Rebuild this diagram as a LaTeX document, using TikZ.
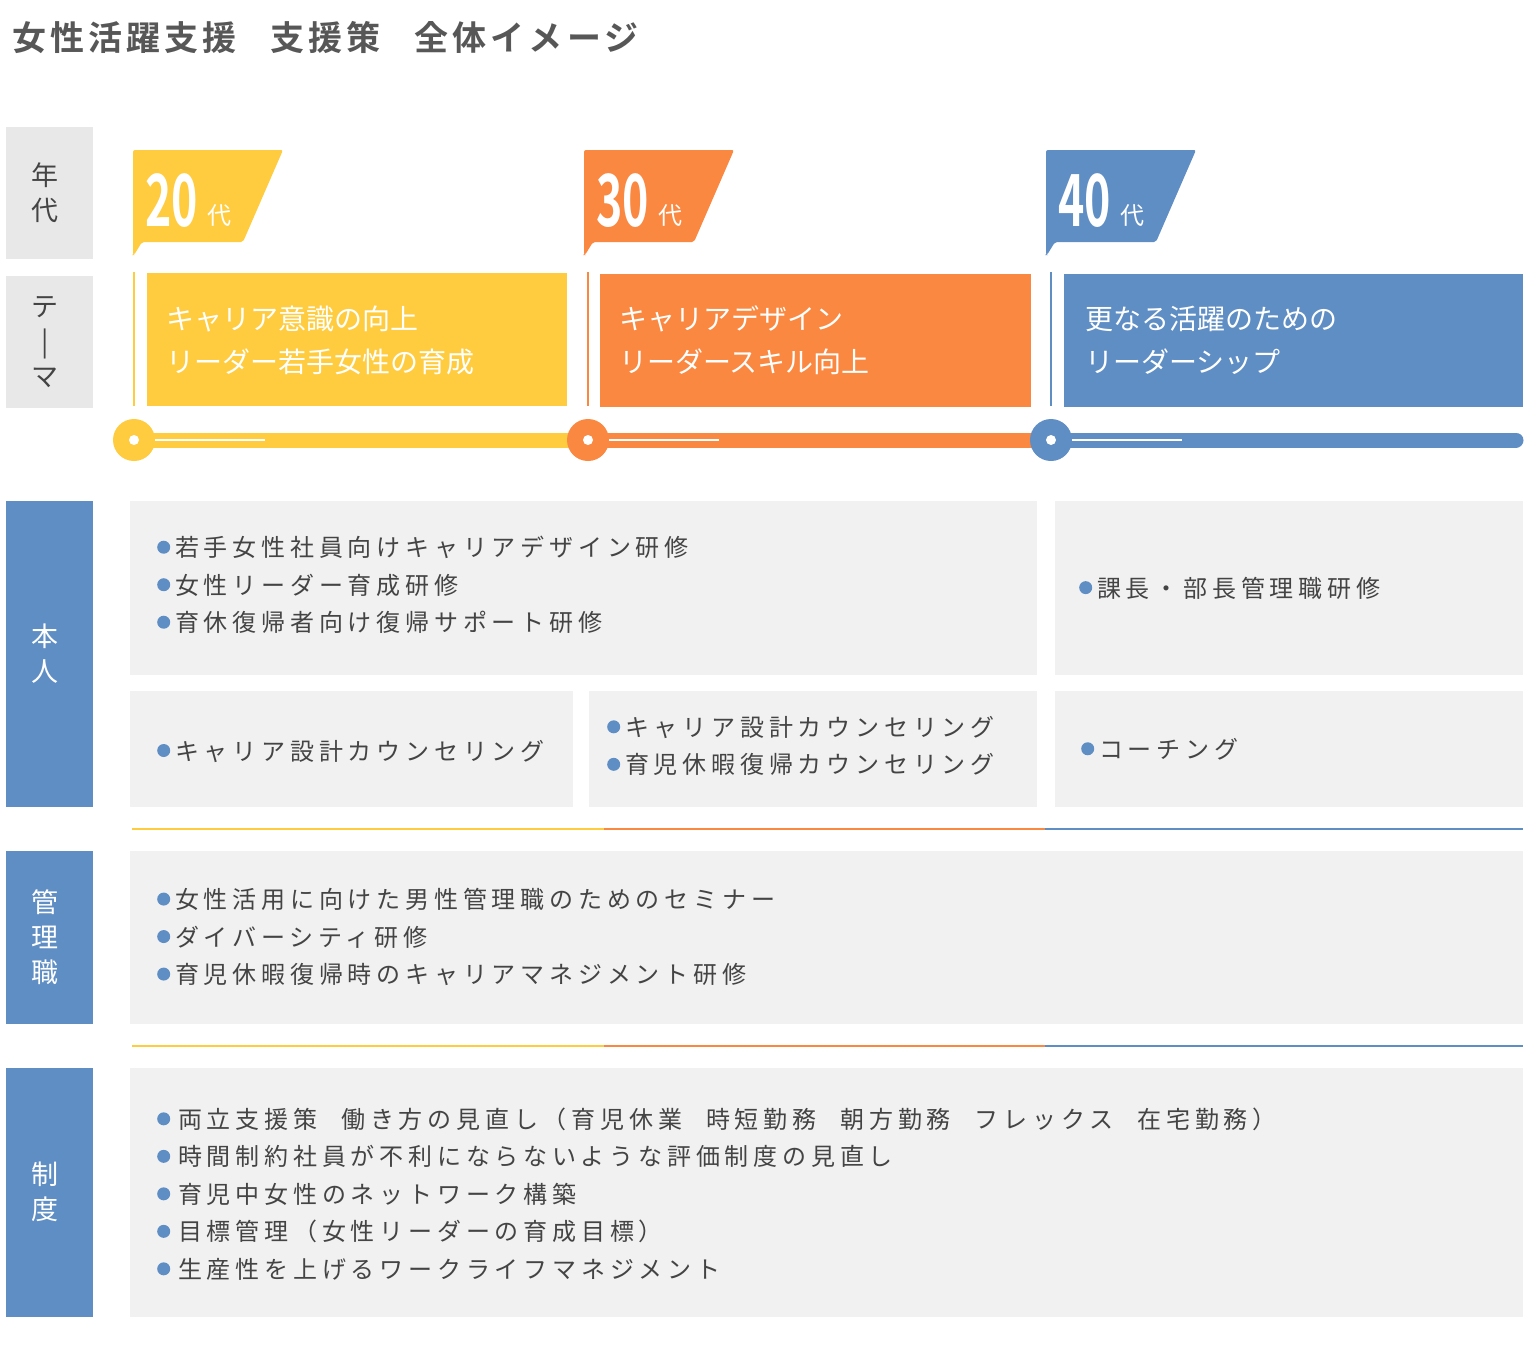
\documentclass[tikz,border=0pt]{standalone}
\usepackage{fontspec}
\setmainfont{Noto Sans CJK JP}
\newfontfamily\jpb{Noto Sans CJK JP Bold}
\definecolor{cy}{HTML}{FFCC40}
\definecolor{co}{HTML}{FA8840}
\definecolor{cb}{HTML}{5F8EC4}
\definecolor{gb}{HTML}{F1F1F1}
\definecolor{gl}{HTML}{E8E8E8}
\definecolor{tx}{HTML}{444444}
\tikzset{
 cbox/.style={fill=gb,draw=none},
 lbl/.style={inner sep=0,align=center,font=\fontsize{27}{35}\selectfont},
 thm/.style={anchor=west,inner sep=0,align=left,text=white,font=\fontsize{28}{43}\selectfont},
 bl/.style={anchor=west,inner sep=0,align=left,text=tx,font=\addfontfeature{LetterSpace=20}\fontsize{24}{37.5}\selectfont},
}
\newcommand{\bu}{{\color{cb}\raisebox{3pt}{\tikz\fill (0,0) circle (6.5pt);}}\hspace{5pt}}
\begin{document}
\begin{tikzpicture}[x=1pt,y=-1pt]
\useasboundingbox (0,0) rectangle (1528,1350);
\node[anchor=west,inner sep=0,text=tx!90,font=\jpb\addfontfeature{LetterSpace=12}\fontsize{34}{40}\selectfont] (title) at (12,38) {女性活躍支援\hspace{1em}支援策\hspace{1em}全体イメージ};
% left labels
\fill[gl] (6,127) rectangle (93,259); \node[lbl,text=tx] (l1) at (45,193) {年\\代};
\fill[gl] (6,276) rectangle (93,408); \node[lbl,text=tx] (l2) at (45,342) {テ\\|\\マ};
\fill[cb] (6,501) rectangle (93,807); \node[lbl,text=white] (l3) at (45,654) {本\\人};
\fill[cb] (6,851) rectangle (93,1024); \node[lbl,text=white] (l4) at (45,937) {管\\理\\職};
\fill[cb] (6,1068) rectangle (93,1317); \node[lbl,text=white] (l5) at (45,1192) {制\\度};
% tags
\foreach \x/\c/\n in {133/cy/20,584/co/30,1046/cb/40}{
 \fill[\c,rounded corners=2pt] (\x,150) -- (\x+150,150) -- (\x+110,242) -- (\x+9,242) -- (\x+1,255) -- (\x,255) -- cycle;
 \node[anchor=base west,inner sep=0,text=white,font=\jpb\fontsize{72}{72}\selectfont,xscale=0.62] at (\x+12,226) {\n};
 \node[anchor=base west,inner sep=0,text=white,font=\fontsize{24}{24}\selectfont] at (\x+74,224) {代};
}
% theme boxes
\fill[cy] (147,273) rectangle (567,406); \draw[cy,line width=2pt] (134,272) -- (134,406);
\fill[co] (600,274) rectangle (1031,407); \draw[co,line width=2pt] (588,272) -- (588,406);
\fill[cb] (1064,274) rectangle (1523,407); \draw[cb,line width=2pt] (1051,272) -- (1051,406);
\node[thm] (t1) at (166,340) {キャリア意識の向上\\リーダー若手女性の育成};
\node[thm] (t2) at (619,340) {キャリアデザイン\\リーダースキル向上};
\node[thm] (t3) at (1085,340) {更なる活躍のための\\リーダーシップ};
% timeline
\draw[cy,line width=15pt] (134,440) -- (588,440);
\draw[co,line width=15pt] (588,440) -- (1051,440);
\draw[cb,line width=15pt,line cap=round] (1051,440) -- (1516,440);
\foreach \x/\c in {134/cy,588/co,1051/cb}{
 \fill[\c] (\x,440) circle (21);
 \fill[white] (\x,440) circle (5);
 \draw[white,line width=2pt] (\x+21,440) -- (\x+131,440);
}
% content boxes
\fill[cbox] (130,501) rectangle (1037,675);
\fill[cbox] (1055,501) rectangle (1523,675);
\fill[cbox] (130,691) rectangle (573,807);
\fill[cbox] (589,691) rectangle (1037,807);
\fill[cbox] (1055,691) rectangle (1523,807);
\fill[cbox] (130,851) rectangle (1523,1024);
\fill[cbox] (130,1068) rectangle (1523,1317);
\foreach \y in {829,1046}{
 \draw[cy,line width=1.2pt] (132,\y) -- (604,\y);
 \draw[co,line width=1.2pt] (604,\y) -- (1045,\y);
 \draw[cb,line width=1.2pt] (1045,\y) -- (1523,\y);
}
\node[bl] (b1) at (157,585) {\bu 若手女性社員向けキャリアデザイン研修\\\bu 女性リーダー育成研修\\\bu 育休復帰者向け復帰サポート研修};
\node[bl] (b2) at (1079,588) {\bu 課長・部長管理職研修};
\node[bl] (b3) at (157,751) {\bu キャリア設計カウンセリング};
\node[bl] (b4) at (607,746) {\bu キャリア設計カウンセリング\\\bu 育児休暇復帰カウンセリング};
\node[bl] (b5) at (1081,749) {\bu コーチング};
\node[bl] (b6) at (157,937) {\bu 女性活用に向けた男性管理職のためのセミナー\\\bu ダイバーシティ研修\\\bu 育児休暇復帰時のキャリアマネジメント研修};
\node[bl] (b7) at (157,1194) {\bu\hspace{3pt}両立支援策\hspace{1em}働き方の見直し（育児休業\hspace{1em}時短勤務\hspace{1em}朝方勤務\hspace{1em}フレックス\hspace{1em}在宅勤務）\\\bu\hspace{3pt}時間制約社員が不利にならないような評価制度の見直し\\\bu\hspace{3pt}育児中女性のネットワーク構築\\\bu\hspace{3pt}目標管理（女性リーダーの育成目標）\\\bu\hspace{3pt}生産性を上げるワークライフマネジメント};
\end{tikzpicture}
\end{document}
